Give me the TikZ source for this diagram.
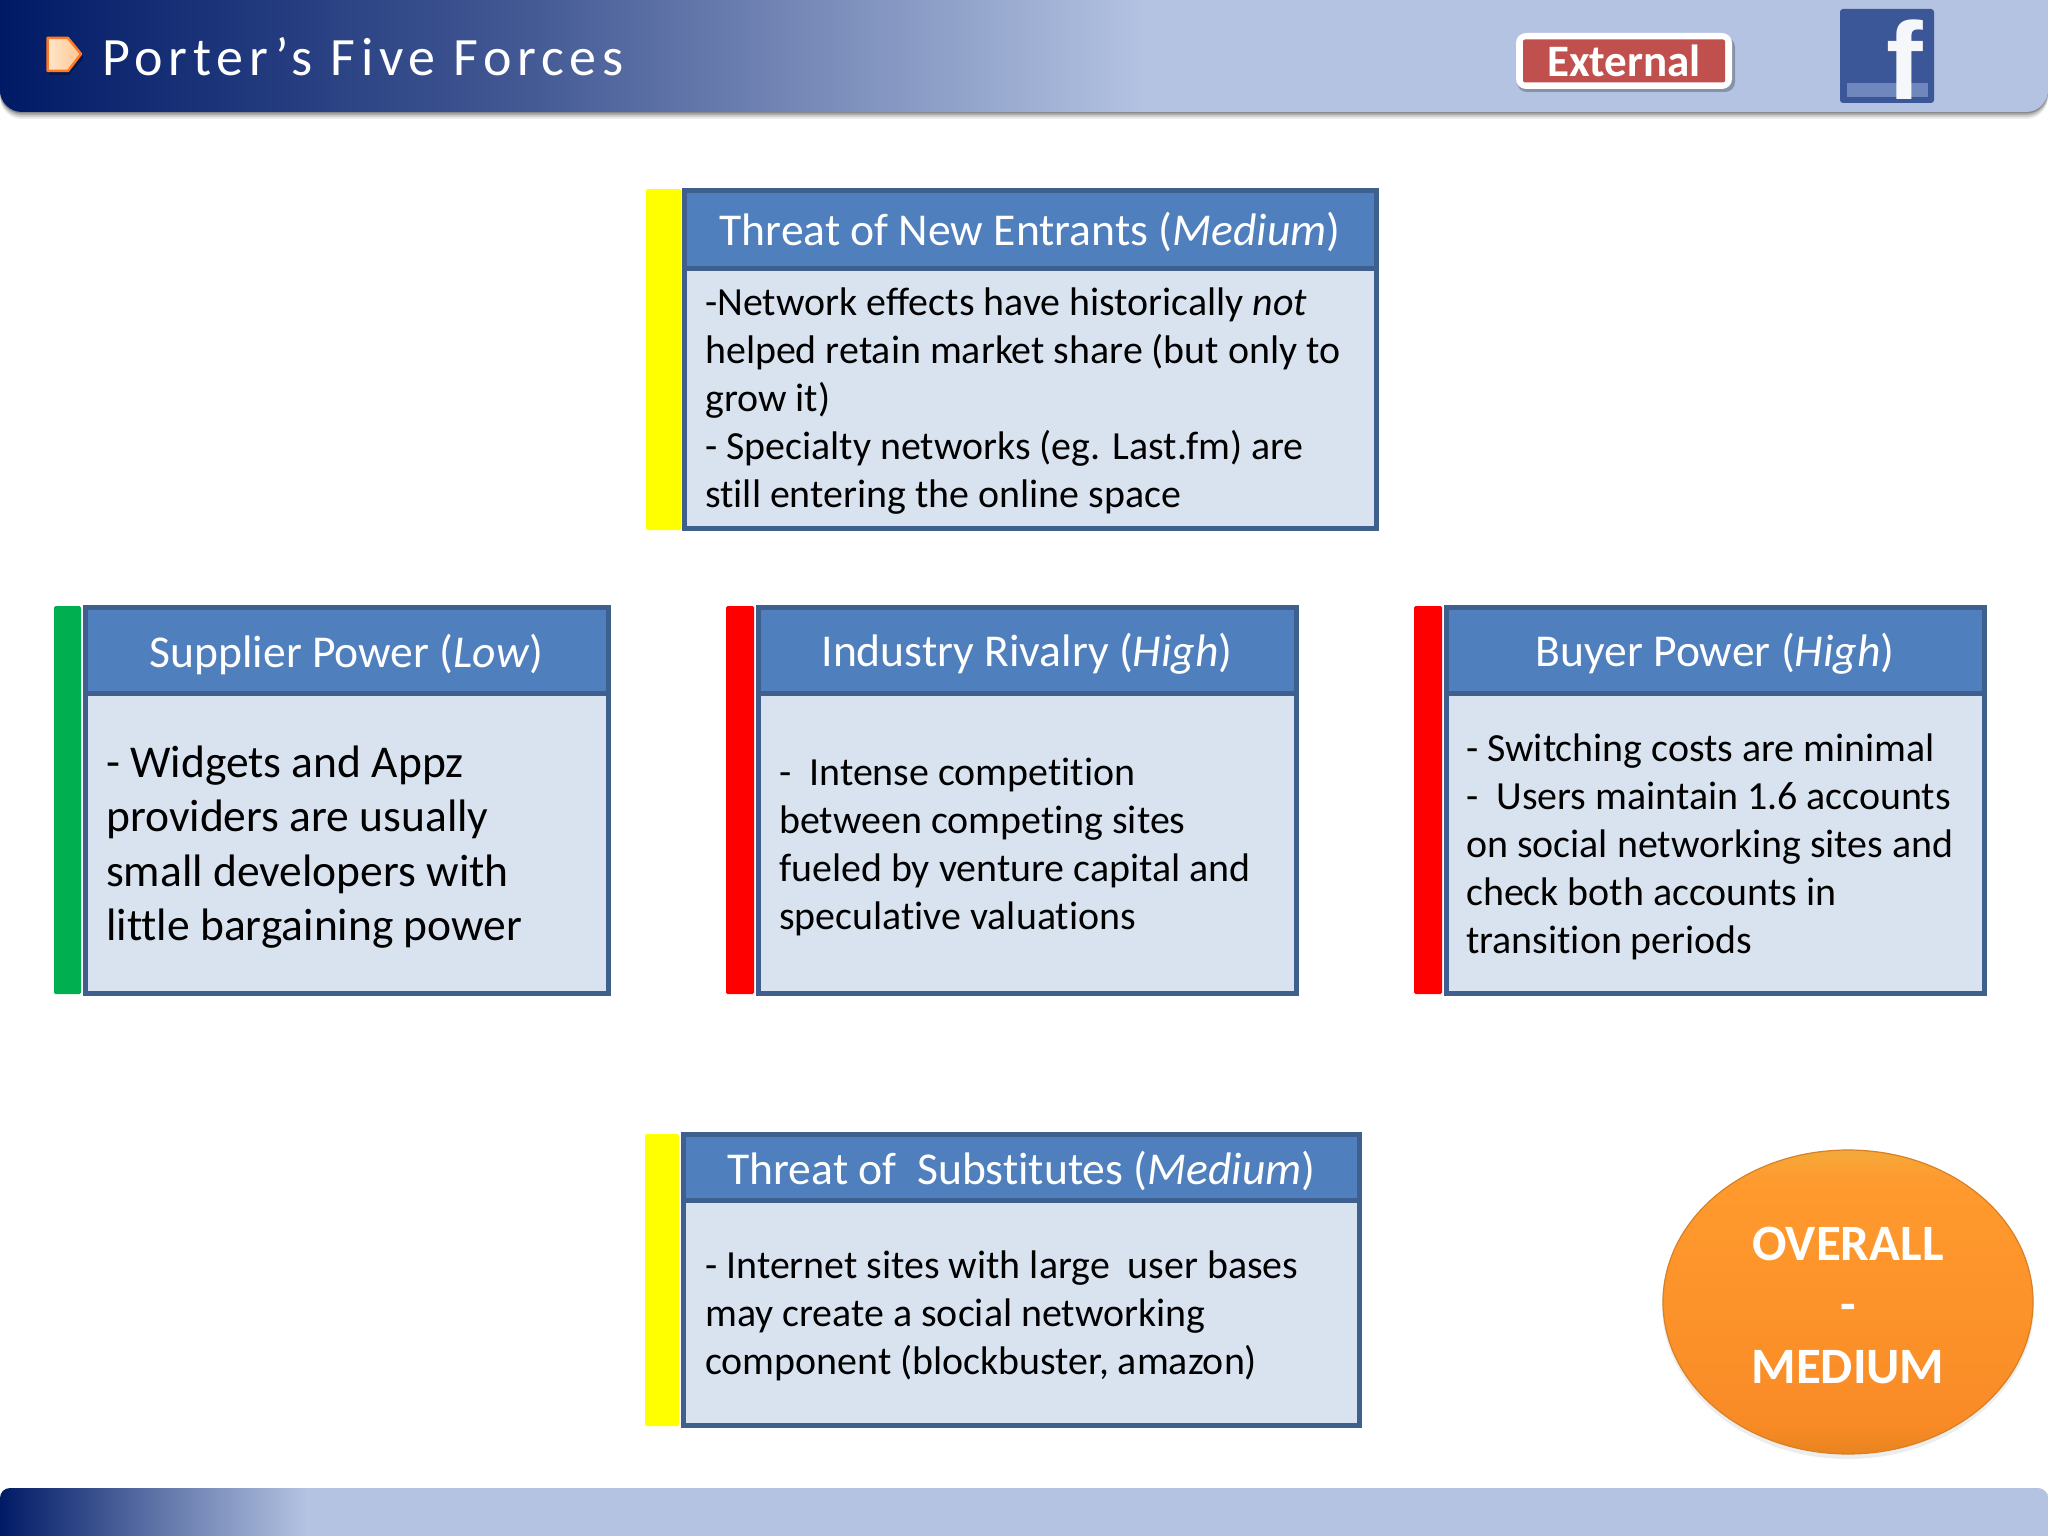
\documentclass[tikz,border=0pt]{standalone}
\usepackage{fontspec}
\setmainfont{Carlito}[Ligatures=NoCommon]
\newfontfamily\logofont{Liberation Sans}
\usetikzlibrary{shapes.geometric,calc}
\definecolor{framec}{HTML}{3F608F}
\definecolor{headc}{HTML}{4F7FBC}
\definecolor{bodyc}{HTML}{D9E3F0}
\definecolor{navy}{HTML}{001A66}
\definecolor{barlight}{HTML}{B4C3E2}
\definecolor{fbblue}{HTML}{3B5797}
\definecolor{fbband}{HTML}{6F87BD}
\definecolor{redbadge}{HTML}{C0504D}
\definecolor{greenbar}{HTML}{00B050}
\definecolor{yellowbar}{HTML}{FFFF00}
\definecolor{redbar}{HTML}{FF0000}
\definecolor{myorangeA}{HTML}{FF9A2E}
\definecolor{myorangeB}{HTML}{F98B26}
\definecolor{myorangeC}{HTML}{F4A93A}
\definecolor{myorangeD}{HTML}{E8841F}
\pgfdeclarehorizontalshading{topband}{100bp}{color(0bp)=(navy);color(25bp)=(navy);color(38bp)=(navy!62!barlight);color(53bp)=(barlight);color(100bp)=(barlight)}
\pgfdeclarehorizontalshading{botband}{100bp}{color(0bp)=(navy);color(25bp)=(navy);color(29bp)=(navy!45!barlight);color(32.5bp)=(barlight);color(100bp)=(barlight)}
\pgfdeclareverticalshading{ballshade}{100bp}{color(0bp)=(myorangeD);color(25bp)=(myorangeD);color(30bp)=(myorangeB);color(70bp)=(myorangeA);color(75bp)=(myorangeC);color(100bp)=(myorangeC)}
\tikzset{
  x=1pt,y=-1pt,
  frame/.style={draw=framec,line width=5pt,rectangle,inner sep=0pt,outer sep=0pt},
  headbox/.style={frame,fill=headc},
  headtext/.style={inner sep=0pt,text=white,font=\fontsize{45.6}{50}\selectfont},
  bodybox/.style={frame,fill=bodyc},
  bodytext/.style={anchor=west,align=left,inner sep=0pt,text=black,font=\fontsize{39.9}{48}\selectfont},
  bigtext/.style={anchor=west,align=left,inner sep=0pt,text=black,font=\fontsize{45.5}{54.5}\selectfont},
  ratebar/.style={rectangle,inner sep=0pt,outer sep=0pt,rounded corners=1.5pt},
}
\begin{document}
\begin{tikzpicture}
\useasboundingbox (0,0) rectangle (2048,1536);
% top band
\foreach \o/\a in {7/0.08,5/0.12,3/0.16,1.5/0.2}{
  \fill[black,opacity=\a,rounded corners=22pt] (0,-30) -- (0,112+\o) -- (2048,112+\o) -- (2048,-30) -- cycle;
}
\shade[shading=topband,rounded corners=22pt] (0,-30) -- (0,112) -- (2048,112) -- (2048,-30) -- cycle;
\fill[black,opacity=0.28] (49,41) -- (69,41) -- (84,58) -- (69,75) -- (49,75) -- cycle;
\draw[draw=orange!75!red!85!white,line width=2.5pt,left color=white!80!orange,right color=orange!45!white,line join=round] (47.5,38) -- (68,38) -- (81,54) -- (68,71) -- (47.5,71) -- cycle;
\node[anchor=west,inner sep=0pt,text=white,font=\fontsize{54}{60}\selectfont\addfontfeature{LetterSpace=10.5}] (title) at (102,56.5) {Porter’s Five Forces};
% External badge
\fill[black,opacity=.25,rounded corners=10pt] (1517,37) rectangle (1735,92);
\node[rectangle,fill=white,rounded corners=10pt,minimum width=216pt,minimum height=56pt,inner sep=0pt] (badgeout) at (1624,61) {};
\node[rectangle,fill=redbadge,rounded corners=2pt,minimum width=202pt,minimum height=43pt,inner sep=0pt,text=white,font=\fontsize{45}{50}\selectfont\bfseries] (badge) at (1624,61) {External};
% facebook icon
\node[rectangle,fill=fbblue,rounded corners=3pt,minimum width=94pt,minimum height=94pt,inner sep=0pt] (fb) at (1887,56) {};
\fill[fbband] (1847,83) rectangle (1928,97);
\node[inner sep=0pt,text=white!95!fbblue,font=\logofont\bfseries\fontsize{110}{110}\selectfont,anchor=base] (fbf) at (1905,100) {f};
% Threat of new entrants
\node[ratebar,fill=yellowbar,minimum width=35pt,minimum height=341pt] (r1) at (663.5,359.5) {};
\node[bodybox,minimum width=692pt,minimum height=265pt] (b1) at (1030,396) {};
\node[headbox,minimum width=692pt,minimum height=78pt] (h1) at (1030,229) {};
\node[headtext] (h1t) at (1030,232) {Threat of New Entrants (\textit{Medium})};
\node[bodytext] (t1) at (705,401) {-Network effects have historically \textit{not}\\helped retain market share (but only to\\grow it)\\- Specialty networks (eg. Last.fm) are\\still entering the online space};
% Supplier power
\node[ratebar,fill=greenbar,minimum width=27pt,minimum height=388pt] (r2) at (67.5,800) {};
\node[bodybox,minimum width=523pt,minimum height=302pt] (b2) at (346.5,842) {};
\node[headbox,minimum width=523pt,minimum height=86pt] (h2) at (346.5,650) {};
\node[headtext] (h2t) at (346.5,654) {Supplier Power (\textit{Low})};
\node[bigtext] (t2) at (106,847) {- Widgets and Appz\\providers are usually\\small developers with\\little bargaining power};
% Industry rivalry
\node[ratebar,fill=redbar,minimum width=28pt,minimum height=388pt] (r3) at (740,800) {};
\node[bodybox,minimum width=538pt,minimum height=302pt] (b3) at (1027,842) {};
\node[headbox,minimum width=538pt,minimum height=86pt] (h3) at (1027,650) {};
\node[headtext] (h3t) at (1027,654) {Industry Rivalry (\textit{High})};
\node[bodytext] (t3) at (779,847) {-\ \ Intense competition\\between competing sites\\fueled by venture capital and\\speculative valuations};
% Buyer power
\node[ratebar,fill=redbar,minimum width=28pt,minimum height=388pt] (r4) at (1428,800) {};
\node[bodybox,minimum width=538pt,minimum height=302pt] (b4) at (1715,842) {};
\node[headbox,minimum width=538pt,minimum height=86pt] (h4) at (1715,650) {};
\node[headtext] (h4t) at (1715,654) {Buyer Power (\textit{High})};
\node[bodytext] (t4) at (1466,847) {- Switching costs are minimal\\-\ \ Users maintain 1.6 accounts\\on social networking sites and\\check both accounts in\\transition periods};
% Threat of substitutes
\node[ratebar,fill=yellowbar,minimum width=34pt,minimum height=292pt] (r5) at (662,1280) {};
\node[bodybox,minimum width=676pt,minimum height=226pt] (b5) at (1021.5,1312) {};
\node[headbox,minimum width=676pt,minimum height=66pt] (h5) at (1021.5,1167) {};
\node[headtext] (h5t) at (1021.5,1171) {Threat of\ \ Substitutes (\textit{Medium})};
\node[bodytext] (t5) at (705,1316) {- Internet sites with large\ \ user bases\\may create a social networking\\component (blockbuster, amazon)};
% overall
\fill[black,opacity=.07] (1848,1305) ellipse [x radius=186pt,y radius=154pt];
\node[ellipse,draw=brown!60!orange,line width=1.2pt,shading=ballshade,minimum width=370pt,minimum height=304pt,inner sep=0pt] (ov) at (1848,1302) {};
\node[inner sep=0pt,text=white,align=center,font=\fontsize{51}{61.5}\selectfont\bfseries] (ovt) at (1848,1305) {OVERALL\\-\\MEDIUM};
% bottom band
\shade[shading=botband,rounded corners=10pt] (0,1560) -- (0,1488) -- (2048,1488) -- (2048,1560) -- cycle;
\end{tikzpicture}
\end{document}
